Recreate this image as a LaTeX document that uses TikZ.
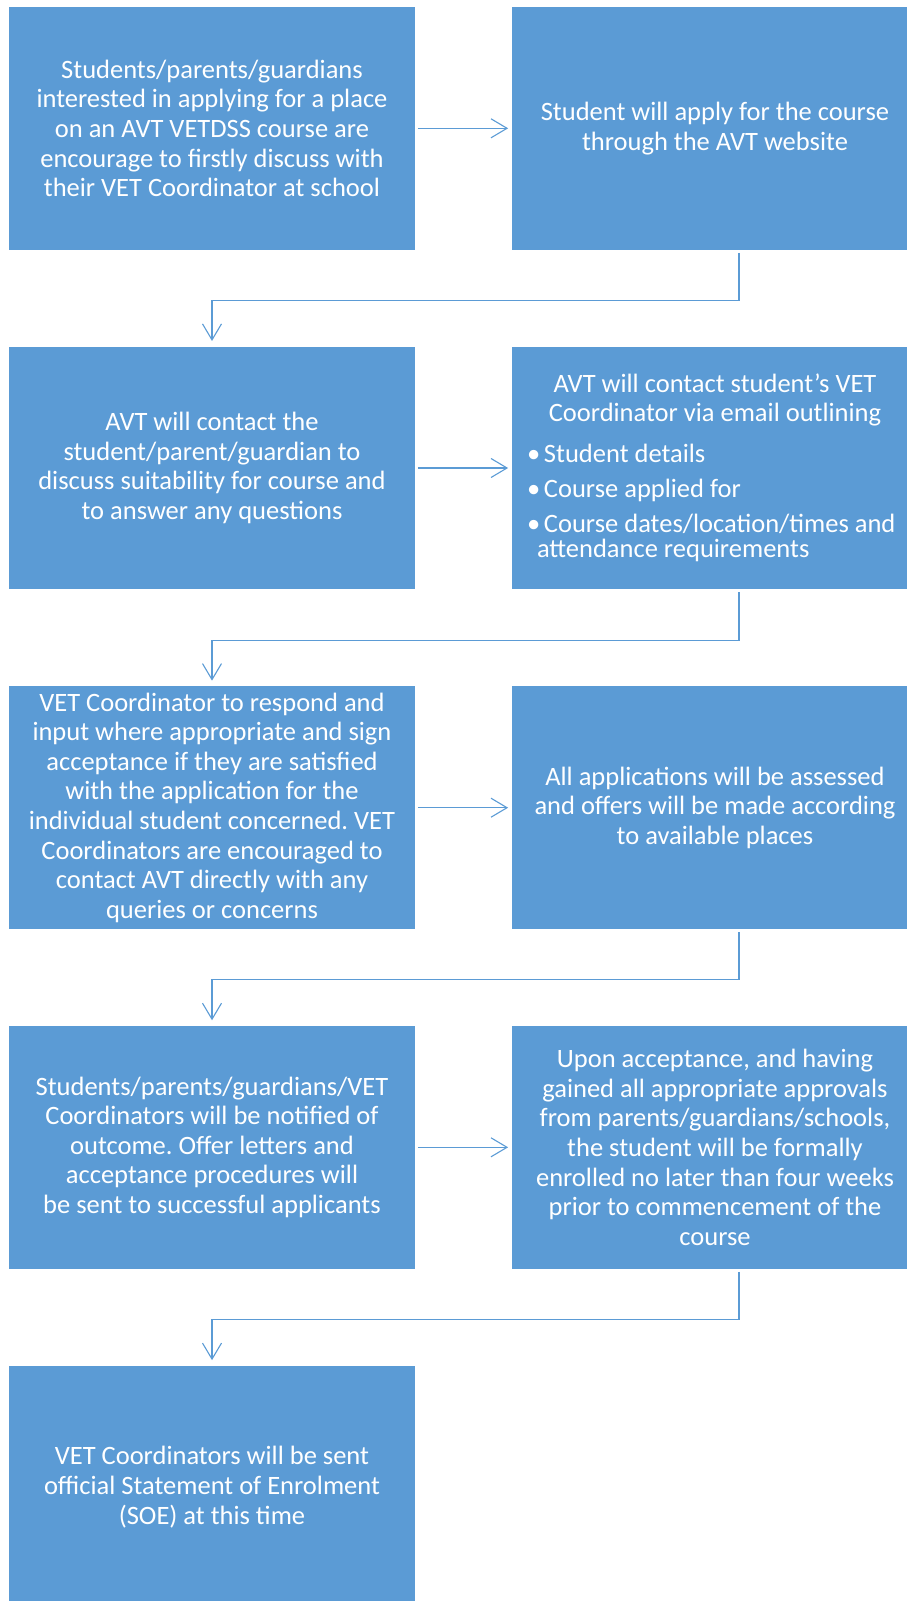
\documentclass[tikz,border=0pt]{standalone}
\usepackage{fontspec}
\setmainfont{Carlito}
\frenchspacing
\usetikzlibrary{arrows.meta}
\definecolor{boxblue}{HTML}{5B9BD5}
\definecolor{lineblue}{HTML}{5B9BD5}
\begin{document}
\begin{tikzpicture}[x=1pt,y=-1pt,
  box/.style={rectangle, fill=boxblue, draw=none, minimum width=406pt,
    minimum height=242.5pt, text=white, inner sep=0pt, align=center,
    font=\fontsize{26.5}{29.6}\selectfont},
  conn/.style={draw=lineblue, line width=1.1pt,
    -{Straight Barb[length=16pt,width=19pt,line width=1.1pt]}}]
\useasboundingbox (0,0) rectangle (906,1601);

\node[box] (b1) at (212,128.3) {Students/parents/guardians\\interested in applying for a place\\on an AVT VETDSS course are\\encourage to firstly discuss with\\their VET Coordinator at school};
\node[box] (b2) at (715,128.3) {Student will apply for the course\\through the AVT website};

\node[box] (b3) at (212,468) {AVT will contact the\\student/parent/guardian to\\discuss suitability for course and\\to answer any questions};
\node[box] (b4) at (715,468) {\raisebox{12pt}{\parbox{376pt}{\fontsize{26.5}{29.6}\selectfont
  {\centering AVT will contact student’s VET\\[-1pt]Coordinator via email outlining\par}
  \vspace{7pt}
  \setlength{\parskip}{5pt}\raggedright
  \noindent\makebox[17pt][l]{\textbullet}Student details\par
  \noindent\makebox[17pt][l]{\textbullet}Course applied for\par
  \noindent\makebox[17pt][l]{\textbullet}Course dates/location/times and\\[-4pt]\hspace*{10pt}attendance requirements\par}}};

\node[box] (b5) at (212,807.7) {VET Coordinator to respond and\\input where appropriate and sign\\acceptance if they are satisfied\\with the application for the\\individual student concerned. VET\\Coordinators are encouraged to\\contact AVT directly with any\\queries or concerns};
\node[box] (b6) at (715,807.7) {All applications will be assessed\\and offers will be made according\\to available places};

\node[box] (b7) at (212,1147.3) {Students/parents/guardians/VET\\Coordinators will be notified of\\outcome. Offer letters and\\acceptance procedures will\\be sent to successful applicants};
\node[box] (b8) at (715,1147.3) {Upon acceptance, and having\\gained all appropriate approvals\\from parents/guardians/schools,\\the student will be formally\\enrolled no later than four weeks\\prior to commencement of the\\course};

\node[box] (b9) at (212,1487.2) {VET Coordinators will be sent\\official Statement of Enrolment\\(SOE) at this time};

% horizontal arrows
\draw[conn] ([xshift=2.7pt]b1.east) -- ([xshift=-3.7pt]b2.west);
\draw[conn] ([xshift=2.7pt]b3.east) -- ([xshift=-3.7pt]b4.west);
\draw[conn] ([xshift=2.7pt]b5.east) -- ([xshift=-3.7pt]b6.west);
\draw[conn] ([xshift=2.7pt]b7.east) -- ([xshift=-3.7pt]b8.west);

% elbow connectors
\draw[conn] ([xshift=24pt,yshift=-3pt]b2.south) -- ++(0,47.75) -| ([yshift=5.6pt]b3.north);
\draw[conn] ([xshift=24pt,yshift=-3pt]b4.south) -- ++(0,47.75) -| ([yshift=5.6pt]b5.north);
\draw[conn] ([xshift=24pt,yshift=-3pt]b6.south) -- ++(0,47.75) -| ([yshift=5.6pt]b7.north);
\draw[conn] ([xshift=24pt,yshift=-3pt]b8.south) -- ++(0,47.75) -| ([yshift=5.6pt]b9.north);
\end{tikzpicture}
\end{document}
